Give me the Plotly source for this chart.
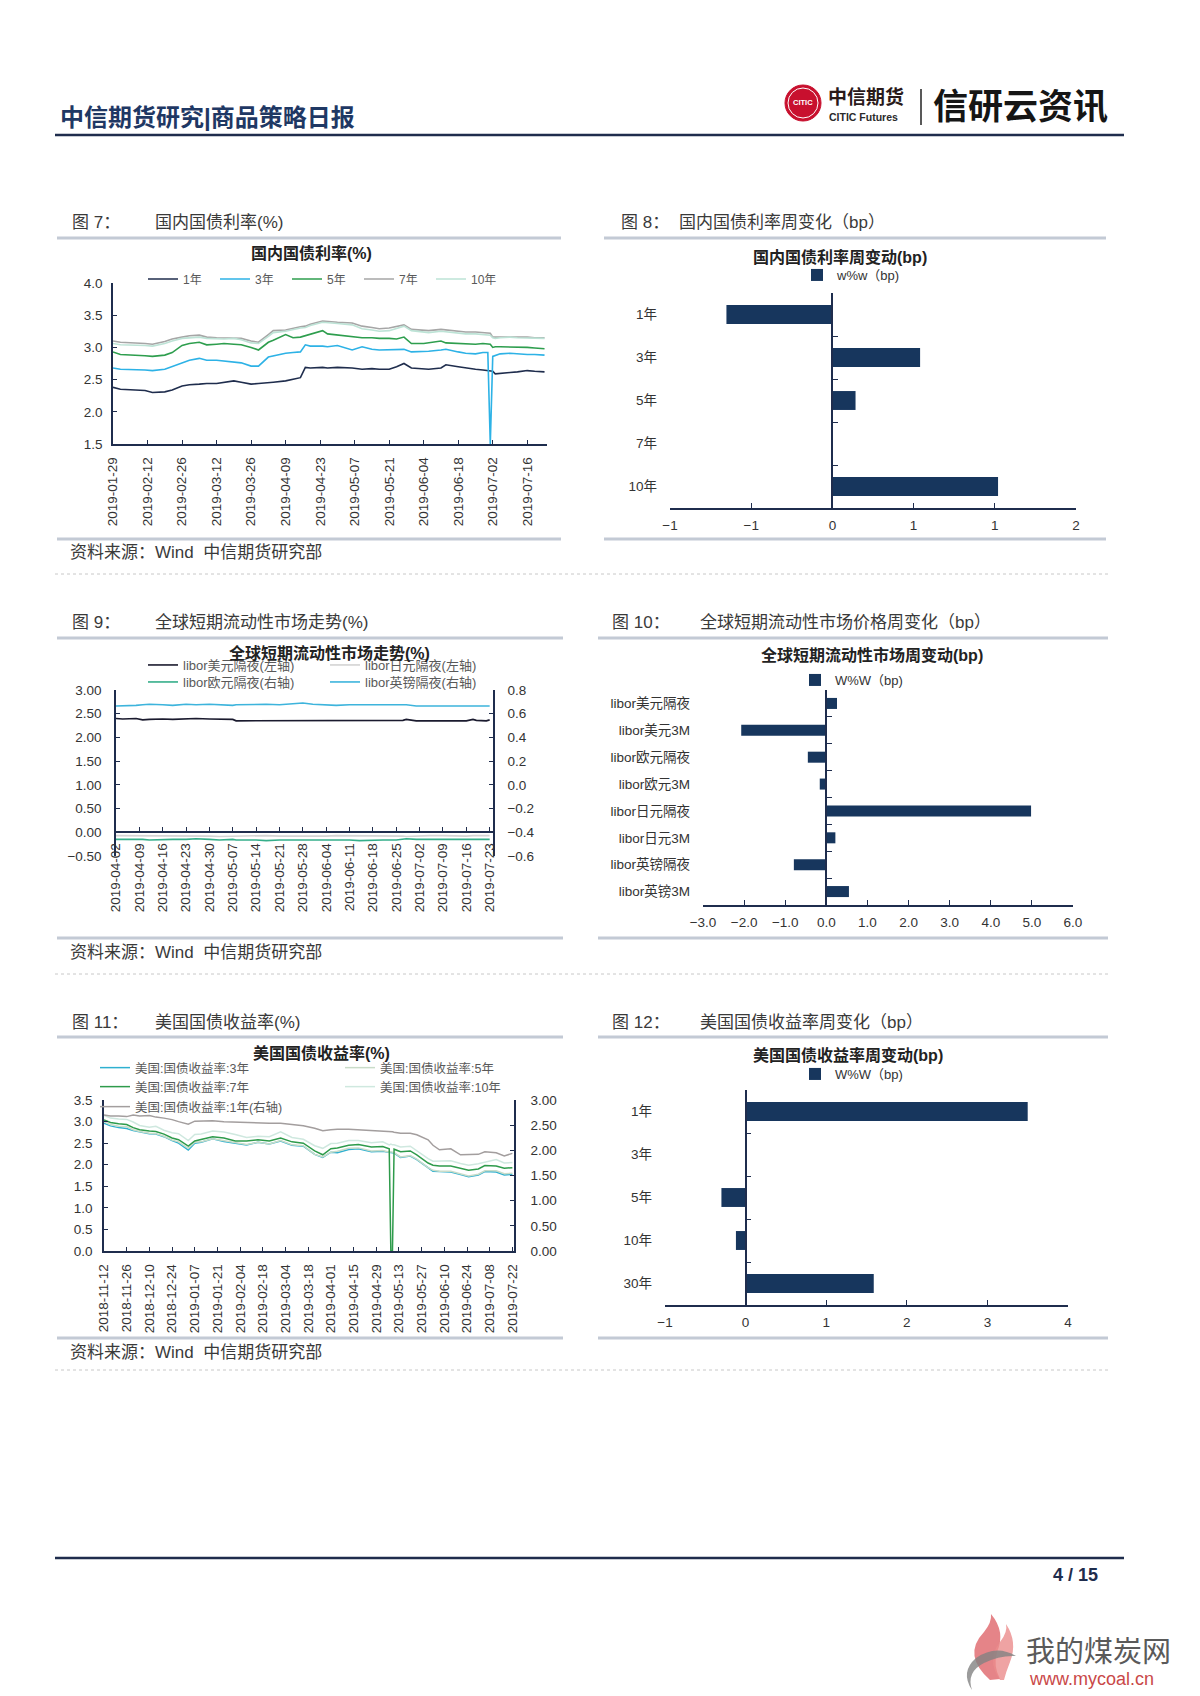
import plotly.graph_objects as go

W, H = 1200, 1696
def fx(p): return p / W
def fy(p): return 1 - p / H

FONT = 'Liberation Sans, Noto Sans CJK SC, sans-serif'
NAVY = '#1F2D4D'
BAR = '#17365D'
TXT = '#333333'

# ---------------- data: chart 7 (国内国债利率) ----------------
cn_dates = ['2019-01-29','2019-02-01','2019-02-11','2019-02-14','2019-02-19','2019-02-22','2019-02-26','2019-03-01',
            '2019-03-05','2019-03-08','2019-03-12','2019-03-15','2019-03-19','2019-03-22','2019-03-26','2019-03-29',
            '2019-04-02','2019-04-04','2019-04-09','2019-04-12','2019-04-15','2019-04-17','2019-04-19','2019-04-24',
            '2019-04-26','2019-04-30','2019-05-06','2019-05-10','2019-05-14','2019-05-17','2019-05-21','2019-05-24',
            '2019-05-27','2019-05-30','2019-06-04','2019-06-06','2019-06-11','2019-06-13','2019-06-18','2019-06-21',
            '2019-06-25','2019-06-28','2019-06-30','2019-07-01','2019-07-02','2019-07-03','2019-07-05','2019-07-09',
            '2019-07-12','2019-07-16','2019-07-19','2019-07-23']
cn_1y = [2.38,2.35,2.33,2.30,2.31,2.34,2.40,2.42,2.43,2.44,2.44,2.46,2.48,2.46,2.43,2.44,
         2.45,2.46,2.48,2.50,2.53,2.69,2.68,2.69,2.68,2.69,2.68,2.66,2.67,2.66,2.66,2.70,
         2.75,2.68,2.67,2.66,2.68,2.73,2.70,2.68,2.66,2.65,2.64,2.64,2.63,2.59,2.60,2.61,
         2.62,2.64,2.63,2.62]
cn_3y = [2.68,2.66,2.65,2.64,2.66,2.70,2.75,2.80,2.83,2.80,2.80,2.79,2.78,2.76,2.71,2.71,
         2.85,2.87,2.91,2.92,2.93,3.04,3.02,3.02,3.01,3.03,2.96,3.01,2.97,2.96,2.96,2.97,
         2.97,2.93,2.93,2.94,2.96,2.97,2.93,2.91,2.90,2.92,2.92,1.50,2.86,2.87,2.90,2.91,
         2.90,2.89,2.89,2.88]
cn_5y = [2.93,2.89,2.87,2.86,2.88,2.92,3.03,3.06,3.08,3.04,3.05,3.06,3.05,3.04,3.00,2.96,
         3.08,3.11,3.20,3.15,3.16,3.18,3.20,3.26,3.21,3.19,3.16,3.15,3.15,3.14,3.14,3.13,
         3.16,3.06,3.06,3.07,3.10,3.07,3.06,3.05,3.05,3.06,3.06,3.05,3.00,3.01,3.01,3.01,
         3.01,3.00,2.99,2.98]
cn_7y = [3.10,3.08,3.06,3.05,3.09,3.13,3.16,3.18,3.19,3.16,3.15,3.15,3.15,3.14,3.10,3.08,
         3.20,3.26,3.27,3.30,3.32,3.33,3.36,3.41,3.40,3.39,3.38,3.33,3.31,3.29,3.30,3.32,
         3.35,3.28,3.27,3.26,3.28,3.27,3.25,3.24,3.24,3.23,3.22,3.22,3.16,3.16,3.17,3.17,
         3.16,3.16,3.15,3.15]
cn_10y = [3.06,3.04,3.03,3.02,3.06,3.10,3.14,3.15,3.16,3.14,3.13,3.13,3.14,3.12,3.07,3.06,
          3.17,3.23,3.25,3.28,3.30,3.31,3.34,3.39,3.38,3.37,3.35,3.29,3.27,3.25,3.26,3.29,
          3.33,3.26,3.24,3.23,3.25,3.24,3.22,3.21,3.21,3.20,3.20,3.19,3.15,3.14,3.15,3.16,
          3.15,3.15,3.14,3.14]
cn_names = ['1年', '3年', '5年', '7年', '10年']

# ---------------- data: chart 8 ----------------
cn_chg_cats = ['1年', '3年', '5年', '7年', '10年']
cn_chg_vals = [-0.87, 0.72, 0.19, 0.0, 1.36]

# ---------------- data: chart 9 (libor) ----------------
lb_dates = ['2019-04-02','2019-04-04','2019-04-08','2019-04-10','2019-04-12','2019-04-16','2019-04-19','2019-04-23',
            '2019-04-26','2019-04-30','2019-05-03','2019-05-07','2019-05-08','2019-05-14','2019-05-17','2019-05-21',
            '2019-05-24','2019-05-28','2019-05-31','2019-06-04','2019-06-07','2019-06-11','2019-06-14','2019-06-18',
            '2019-06-21','2019-06-25','2019-06-27','2019-06-28','2019-07-01','2019-07-05','2019-07-09','2019-07-12',
            '2019-07-16','2019-07-18','2019-07-19','2019-07-22','2019-07-23']
lb_usd_on = [2.40,2.39,2.40,2.37,2.38,2.39,2.38,2.40,2.40,2.39,2.38,2.38,2.35,2.35,2.35,2.35,2.35,2.35,2.35,
             2.35,2.35,2.35,2.35,2.35,2.35,2.35,2.36,2.38,2.35,2.35,2.35,2.35,2.35,2.38,2.36,2.35,2.37]
lb_jpy_on = [-0.07,-0.07,-0.08,-0.07,-0.07,-0.08,-0.08,-0.07,-0.08,-0.08,-0.09,-0.08,-0.08,-0.07,-0.07,-0.08,
             -0.08,-0.09,-0.08,-0.08,-0.07,-0.07,-0.08,-0.08,-0.07,-0.08,-0.08,-0.09,-0.08,-0.07,-0.07,-0.08,
             -0.08,-0.07,-0.07,-0.06,-0.07]
lb_eur_on = [-0.46,-0.46,-0.455,-0.46,-0.465,-0.46,-0.46,-0.46,-0.455,-0.46,-0.465,-0.46,-0.465,-0.465,-0.47,
             -0.465,-0.465,-0.465,-0.465,-0.46,-0.465,-0.465,-0.47,-0.465,-0.465,-0.465,-0.46,-0.455,-0.46,
             -0.46,-0.46,-0.465,-0.465,-0.46,-0.46,-0.46,-0.46]
lb_gbp_on = [0.665,0.665,0.67,0.675,0.68,0.675,0.67,0.68,0.675,0.68,0.675,0.67,0.675,0.68,0.68,0.675,0.68,
             0.69,0.68,0.675,0.67,0.675,0.675,0.67,0.675,0.675,0.675,0.675,0.665,0.665,0.665,0.665,0.665,
             0.665,0.665,0.665,0.665]
lb_names = ['libor美元隔夜(左轴)', 'libor日元隔夜(左轴)', 'libor欧元隔夜(右轴)', 'libor英镑隔夜(右轴)']

# ---------------- data: chart 10 ----------------
lb_chg_cats = ['libor美元隔夜', 'libor美元3M', 'libor欧元隔夜', 'libor欧元3M',
               'libor日元隔夜', 'libor日元3M', 'libor英镑隔夜', 'libor英镑3M']
lb_chg_vals = [0.26, -2.07, -0.45, -0.16, 4.98, 0.22, -0.79, 0.55]

# ---------------- data: chart 11 (美国国债) ----------------
us_dates = ['2018-11-12','2018-11-16','2018-11-21','2018-11-26','2018-11-30','2018-12-04','2018-12-10','2018-12-14',
            '2018-12-19','2018-12-24','2018-12-28','2019-01-03','2019-01-07','2019-01-11','2019-01-18','2019-01-25',
            '2019-02-01','2019-02-08','2019-02-15','2019-02-22','2019-03-01','2019-03-08','2019-03-15','2019-03-22',
            '2019-03-27','2019-04-01','2019-04-05','2019-04-12','2019-04-18','2019-04-26','2019-05-03','2019-05-07',
            '2019-05-08','2019-05-09','2019-05-10','2019-05-14','2019-05-20','2019-05-24','2019-05-31','2019-06-03',
            '2019-06-07','2019-06-14','2019-06-20','2019-06-25','2019-07-01','2019-07-05','2019-07-12','2019-07-17',
            '2019-07-22']
us_3y = [2.96,2.90,2.86,2.84,2.79,2.76,2.72,2.71,2.65,2.56,2.50,2.34,2.50,2.52,2.60,2.54,
         2.50,2.46,2.52,2.48,2.55,2.45,2.43,2.24,2.17,2.29,2.28,2.35,2.37,2.30,2.31,2.28,
         2.29,2.28,2.27,2.17,2.20,2.12,1.92,1.85,1.84,1.83,1.77,1.72,1.76,1.84,1.83,1.76,1.78]
us_5y = [3.00,2.93,2.89,2.88,2.81,2.77,2.73,2.72,2.66,2.57,2.53,2.38,2.52,2.53,2.60,2.56,
         2.51,2.47,2.52,2.48,2.56,2.46,2.44,2.24,2.18,2.29,2.31,2.38,2.39,2.32,2.33,2.29,
         2.30,2.29,2.28,2.18,2.21,2.13,1.93,1.87,1.85,1.85,1.79,1.74,1.78,1.86,1.86,1.79,1.80]
us_7y = [3.04,2.98,2.95,2.93,2.86,2.81,2.78,2.77,2.71,2.62,2.58,2.43,2.55,2.58,2.65,2.62,
         2.55,2.55,2.58,2.55,2.62,2.53,2.50,2.32,2.23,2.37,2.39,2.45,2.47,2.41,2.42,2.37,
         0.00,0.00,2.36,2.30,2.32,2.23,2.04,1.99,1.97,1.97,1.91,1.87,1.90,1.98,1.97,1.92,1.93]
us_10y = [3.14,3.08,3.06,3.05,2.99,2.91,2.87,2.89,2.80,2.74,2.72,2.56,2.70,2.71,2.78,2.76,
          2.70,2.63,2.66,2.65,2.76,2.63,2.59,2.44,2.38,2.49,2.50,2.56,2.56,2.51,2.53,2.46,
          2.48,2.46,2.46,2.41,2.43,2.32,2.14,2.08,2.08,2.09,2.03,1.99,2.02,2.06,2.12,2.04,2.05]
us_1y = [2.70,2.68,2.68,2.67,2.70,2.68,2.69,2.66,2.64,2.61,2.57,2.52,2.58,2.58,2.59,2.57,
         2.56,2.55,2.55,2.54,2.54,2.51,2.49,2.44,2.39,2.41,2.42,2.42,2.41,2.39,2.39,2.38,
         2.38,2.37,2.36,2.34,2.34,2.31,2.21,2.10,2.01,2.03,1.91,1.92,1.92,1.97,1.95,1.89,1.94]
us_names = ['美国:国债收益率:3年', '美国:国债收益率:5年', '美国:国债收益率:7年',
            '美国:国债收益率:10年', '美国:国债收益率:1年(右轴)']

# ---------------- data: chart 12 ----------------
us_chg_cats = ['1年', '3年', '5年', '10年', '30年']
us_chg_vals = [3.50, 0.0, -0.30, -0.12, 1.59]

# ======================================================================
fig = go.Figure()

def ax(**kw):
    d = dict(showgrid=False, zeroline=False, showline=True, linecolor=NAVY, linewidth=1.5,
             ticks='inside', ticklen=4, tickcolor=NAVY, tickwidth=1.2, automargin=False,
             tickfont=dict(size=13.5, color=TXT, family=FONT))
    d.update(kw)
    return d

DAY = 86400000

# chart 7
c7_colors = ['#1F2D4D', '#2DB2E6', '#2E9E4E', '#A6A6A6', '#BDE3D6']
for nm, vals, col in zip(cn_names, [cn_1y, cn_3y, cn_5y, cn_7y, cn_10y], c7_colors):
    fig.add_trace(go.Scatter(x=cn_dates, y=vals, mode='lines', name=nm, xaxis='x', yaxis='y',
                             line=dict(color=col, width=1.6), legend='legend'))

# chart 8
fig.add_trace(go.Bar(x=cn_chg_vals, y=cn_chg_cats, orientation='h', name='w%w（bp)', width=0.44,
                     marker_color=BAR, xaxis='x2', yaxis='y2', legend='legend7'))
fig.add_trace(go.Scatter(x=cn_chg_vals, y=list(range(len(cn_chg_cats))), mode='none', showlegend=False,
                         hoverinfo='skip', xaxis='x2', yaxis='y8'))

# chart 9
c9_colors = ['#1A1A2E', '#D3D3D3', '#35AE8A', '#3DB4DC']
c9_axes = ['y3', 'y3', 'y9', 'y9']
c9_leg = ['legend2', 'legend2', 'legend3', 'legend3']
for nm, vals, col, ya, lg in zip(lb_names, [lb_usd_on, lb_jpy_on, lb_eur_on, lb_gbp_on], c9_colors, c9_axes, c9_leg):
    fig.add_trace(go.Scatter(x=lb_dates, y=vals, mode='lines', name=nm, xaxis='x3', yaxis=ya,
                             line=dict(color=col, width=1.6), legend=lg))

# chart 10
fig.add_trace(go.Bar(x=lb_chg_vals, y=lb_chg_cats, orientation='h', name='W%W（bp)', width=0.41,
                     marker_color=BAR, xaxis='x4', yaxis='y4', legend='legend8'))
fig.add_trace(go.Scatter(x=lb_chg_vals, y=list(range(len(lb_chg_cats))), mode='none', showlegend=False,
                         hoverinfo='skip', xaxis='x4', yaxis='y10'))

# chart 11
c11_colors = ['#2FB0D0', '#C9DCC8', '#2E9B4B', '#CFE8DF', '#A39E9E']
c11_axes = ['y5', 'y5', 'y5', 'y5', 'y11']
c11_leg = ['legend4', 'legend4', 'legend5', 'legend5', 'legend6']
for nm, vals, col, ya, lg in zip(us_names, [us_3y, us_5y, us_7y, us_10y, us_1y], c11_colors, c11_axes, c11_leg):
    fig.add_trace(go.Scatter(x=us_dates, y=vals, mode='lines', name=nm, xaxis='x5', yaxis=ya,
                             line=dict(color=col, width=1.5), legend=lg))

# chart 12
fig.add_trace(go.Bar(x=us_chg_vals, y=us_chg_cats, orientation='h', name='W%W（bp)', width=0.44,
                     marker_color=BAR, xaxis='x6', yaxis='y6', legend='legend9'))
fig.add_trace(go.Scatter(x=us_chg_vals, y=list(range(len(us_chg_cats))), mode='none', showlegend=False,
                         hoverinfo='skip', xaxis='x6', yaxis='y12'))

lay = {}
# chart 7 axes
lay['xaxis'] = ax(domain=[fx(113), fx(547)], anchor='y', type='date', range=['2019-01-29', '2019-07-24'],
                  tick0='2019-01-29', dtick=14 * DAY, tickformat='%Y-%m-%d', tickangle=-90, ticklabelstandoff=6)
lay['yaxis'] = ax(domain=[fy(444), fy(283)], anchor='x', range=[1.5, 4.0], tick0=1.5, dtick=0.5,
                  tickformat='.1f', ticklabelstandoff=6)

def bar_axes(xn, yn, tn, cats, xdom, ydom, rng, dtick, fmt, tick0=0):
    xd = [fx(xdom[0]), fx(xdom[1])]
    lay['xaxis%s' % xn] = ax(domain=xd, anchor='y%s' % yn, range=rng, tick0=tick0, dtick=dtick,
                             tickformat=fmt, ticklen=5, ticklabelstandoff=4)
    lay['yaxis%s' % yn] = dict(domain=[fy(ydom[1]), fy(ydom[0])], anchor='x%s' % xn, type='category',
                               categoryorder='array', categoryarray=cats, autorange='reversed',
                               showline=False, ticks='', showgrid=False, zeroline=False, automargin=False,
                               ticklabelstandoff=12, tickfont=dict(size=13.5, color=TXT, family=FONT))
    zero = xd[0] + (0 - rng[0]) / (rng[1] - rng[0]) * (xd[1] - xd[0])
    n = len(cats)
    lay['yaxis%s' % tn] = dict(overlaying='y%s' % yn, anchor='free', position=zero, range=[n - 0.5, -0.5],
                               tickmode='array', tickvals=[i - 0.5 for i in range(n + 1)], ticks='inside',
                               ticklen=5, tickcolor=NAVY, showticklabels=False, showline=True,
                               linecolor=NAVY, linewidth=1.5, showgrid=False, zeroline=False, automargin=False)

bar_axes('2', '2', '8', cn_chg_cats, (670, 1076), (293, 508), [-4 / 3 - 1e-6, 2 + 1e-6], 2 / 3, '.0f')
bar_axes('4', '4', '10', lb_chg_cats, (703, 1073), (690, 905), [-3 - 1e-6, 6 + 1e-6], 1, '.1f')
bar_axes('6', '6', '12', us_chg_cats, (665, 1068), (1090, 1305), [-1 - 1e-6, 4 + 1e-6], 1, '.0f')

# chart 9 axes
lay['xaxis3'] = ax(domain=[fx(116), fx(493)], anchor='free', position=fy(832), type='date',
                   range=['2019-04-02', '2019-07-24'], tick0='2019-04-02', dtick=7 * DAY,
                   tickformat='%Y-%m-%d', tickangle=-90, ticklabelstandoff=5)
lay['yaxis3'] = ax(domain=[fy(856), fy(690)], anchor='x3', range=[-0.5, 3.0], tick0=-0.5, dtick=0.5,
                   tickformat='.2f', ticklabelstandoff=10)
lay['yaxis9'] = ax(overlaying='y3', side='right', anchor='x3', range=[-0.6, 0.8], tick0=-0.6, dtick=0.2,
                   tickformat='.1f', ticklabelstandoff=10)

# chart 11 axes
lay['xaxis5'] = ax(domain=[fx(104), fx(514)], anchor='y5', type='date', range=['2018-11-12', '2019-07-23'],
                   tick0='2018-11-12', dtick=14 * DAY, tickformat='%Y-%m-%d', tickangle=-90, ticklabelstandoff=6)
lay['yaxis5'] = ax(domain=[fy(1251), fy(1100)], anchor='x5', range=[0, 3.5], tick0=0, dtick=0.5,
                   tickformat='.1f', ticklabelstandoff=7)
lay['yaxis11'] = ax(overlaying='y5', side='right', anchor='x5', range=[0, 3.0], tick0=0, dtick=0.5,
                    tickformat='.2f', ticklabelstandoff=12)

def leg(xp, yp, ew, size=13, color='#595959'):
    return dict(x=fx(xp), y=fy(yp), xanchor='left', yanchor='middle', orientation='h', entrywidth=ew,
                entrywidthmode='pixels', font=dict(size=size, color=color, family=FONT),
                bgcolor='rgba(0,0,0,0)', borderwidth=0, tracegroupgap=0)

lay['legend'] = leg(143, 279, 27, 12)
lay['legend2'] = leg(143, 665, 137, 13)
lay['legend3'] = leg(143, 682, 137, 13)
lay['legend4'] = leg(95, 1068, 200, 12.5)
lay['legend5'] = leg(95, 1087, 200, 12.5)
lay['legend6'] = leg(95, 1107, 200, 12.5)
lay['legend7'] = leg(797, 275, 110, 13, '#333333')
lay['legend8'] = leg(795, 680, 110, 13, '#333333')
lay['legend9'] = leg(795, 1074, 110, 13, '#333333')

# ---------------- text ----------------
ann = []
def txt(x, y, s, size, color=TXT, bold=False, xanchor='left'):
    ann.append(dict(x=fx(x), y=fy(y), xref='paper', yref='paper', text=('<b>%s</b>' % s) if bold else s,
                    showarrow=False, xanchor=xanchor, yanchor='middle',
                    font=dict(size=size, color=color, family=FONT)))

txt(58, 118, '中信期货研究|商品策略日报', 24, '#1F3864', bold=True)
txt(826, 97, '中信期货', 19, '#2A1A1A', bold=True)
txt(827, 117, 'CITIC Futures', 10.5, '#2A2A2A', bold=True)
txt(931, 107, '信研云资讯', 35, '#151515', bold=True)

caps = [(70, 153, 222, '图 7：', '国内国债利率(%)'),
        (619, 677, 222, '图 8：', '国内国债利率周变化（bp）'),
        (70, 153, 622, '图 9：', '全球短期流动性市场走势(%)'),
        (610, 698, 622, '图 10：', '全球短期流动性市场价格周变化（bp）'),
        (70, 153, 1022, '图 11：', '美国国债收益率(%)'),
        (610, 698, 1022, '图 12：', '美国国债收益率周变化（bp）')]
for x1, x2, y, a, b in caps:
    txt(x1, y, a, 17, '#3A3A3A')
    txt(x2, y, b, 17, '#3A3A3A')

titles = [(311, 253, '国内国债利率(%)'), (840, 257, '国内国债利率周变动(bp)'),
          (329, 653, '全球短期流动性市场走势(%)'), (872, 655, '全球短期流动性市场周变动(bp)'),
          (321, 1053, '美国国债收益率(%)'), (848, 1055, '美国国债收益率周变动(bp)')]
for x, y, s in titles:
    txt(x, y, s, 16, '#222222', bold=True, xanchor='center')

for y in (553, 952, 1352):
    txt(68, y, '资料来源：Wind  中信期货研究部', 17, '#3A3A3A')

txt(1100, 1575, '4 / 15', 18, NAVY, bold=True, xanchor='right')
txt(1024, 1652, '我的煤炭网', 29, '#5A5A5A')
txt(1027, 1679, 'www.mycoal.cn', 18, '#C94848')
ann.append(dict(x=fx(803), y=fy(103), xref='paper', yref='paper', text='<b>CITIC</b>', showarrow=False,
                xanchor='center', yanchor='middle', font=dict(size=7.5, color='white', family=FONT)))

# ---------------- shapes ----------------
shp = []
def hline(x0, x1, y, color, width, dash='solid'):
    shp.append(dict(type='line', xref='paper', yref='paper', x0=fx(x0), x1=fx(x1), y0=fy(y), y1=fy(y),
                    line=dict(color=color, width=width, dash=dash)))

hline(55, 1124, 135, NAVY, 2.5)
hline(55, 1124, 1558, NAVY, 2.5)
GR = '#C3CAD5'
for y in (238, 539):
    hline(57, 561, y, GR, 3)
    hline(604, 1106, y, GR, 3)
for y in (638, 938):
    hline(57, 563, y, GR, 3)
    hline(598, 1108, y, GR, 3)
for y in (1037, 1338):
    hline(57, 563, y, GR, 3)
    hline(598, 1108, y, GR, 3)
for y in (574, 974, 1370):
    hline(55, 1108, y, '#C8C8C8', 1, 'dot')

# logo
shp.append(dict(type='circle', xref='paper', yref='paper', x0=fx(785), x1=fx(821), y0=fy(121), y1=fy(85),
                fillcolor='#C8102E', line=dict(color='#C8102E', width=1)))
shp.append(dict(type='circle', xref='paper', yref='paper', x0=fx(788), x1=fx(818), y0=fy(118), y1=fy(88),
                fillcolor='rgba(0,0,0,0)', line=dict(color='white', width=1)))
shp.append(dict(type='line', xref='paper', yref='paper', x0=fx(921), x1=fx(921), y0=fy(89), y1=fy(125),
                line=dict(color='#222222', width=1.5)))

def path(pts):
    s = ''
    for cmd, coords in pts:
        s += cmd + ' '.join('%.5f,%.5f' % (fx(coords[i]), fy(coords[i + 1])) for i in range(0, len(coords), 2)) + ' '
    return s + 'Z'

shp.append(dict(type='path', xref='paper', yref='paper', fillcolor='rgba(225,110,115,0.85)', line=dict(width=0),
                path=path([('M', (990, 1680)), ('Q', (962, 1655, 984, 1632)), ('Q', (992, 1622, 991, 1614)),
                           ('Q', (1006, 1632, 997, 1652)), ('Q', (993, 1666, 1000, 1679))])))
shp.append(dict(type='path', xref='paper', yref='paper', fillcolor='rgba(235,140,140,0.8)', line=dict(width=0),
                path=path([('M', (1000, 1680)), ('Q', (986, 1660, 1000, 1642)), ('Q', (1008, 1632, 1006, 1624)),
                           ('Q', (1018, 1642, 1010, 1662)), ('Q', (1006, 1672, 1004, 1680))])))
shp.append(dict(type='path', xref='paper', yref='paper', fillcolor='rgba(130,130,130,0.8)', line=dict(width=0),
                path=path([('M', (1016, 1656)), ('Q', (996, 1644, 976, 1658)), ('Q', (960, 1672, 972, 1690)),
                           ('Q', (966, 1672, 984, 1663)), ('Q', (1000, 1655, 1016, 1656))])))

fig.update_layout(width=W, height=H, margin=dict(l=0, r=0, t=0, b=0), template='none',
                  paper_bgcolor='white', plot_bgcolor='rgba(0,0,0,0)', font=dict(family=FONT, color=TXT),
                  showlegend=True, annotations=ann, shapes=shp, bargap=0.5, **lay)

fig.write_html("out.html", config={'displayModeBar': False},
               post_script="document.body.style.margin='0px';")
